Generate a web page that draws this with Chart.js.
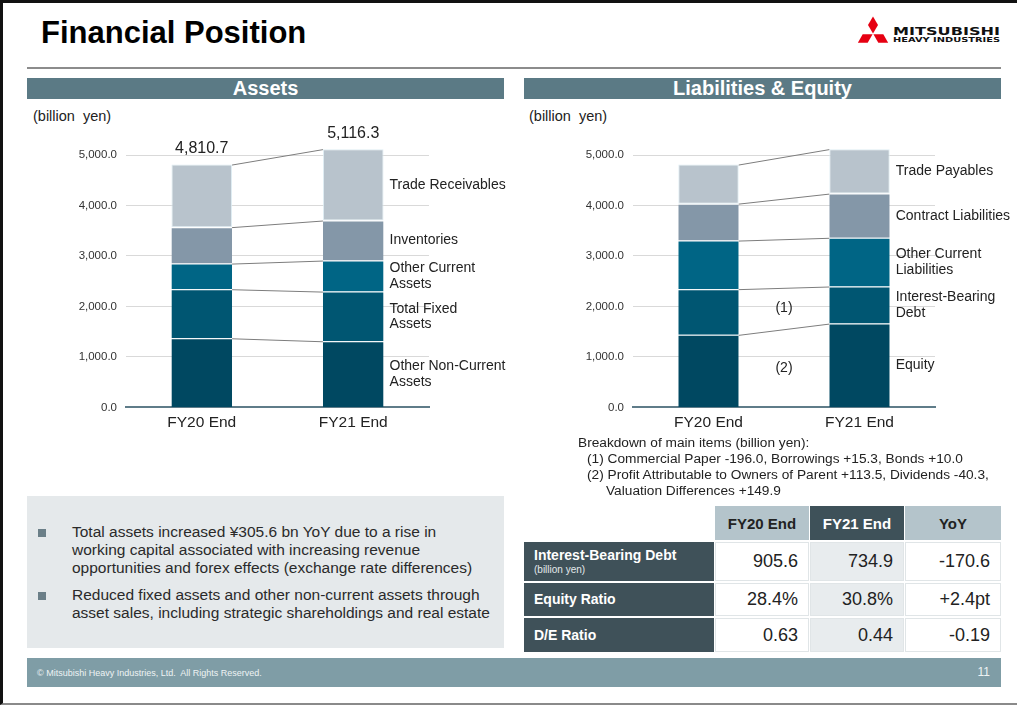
<!DOCTYPE html>
<html><head><meta charset="utf-8">
<script src="https://cdn.jsdelivr.net/npm/chart.js@4.4.1/dist/chart.umd.min.js"></script>
<style>
html,body{margin:0;padding:0;}
body{width:1017px;height:705px;position:relative;overflow:hidden;background:#fff;font-family:Arial,"Liberation Sans",sans-serif;color:#222;}
.abs{position:absolute;}
.frame{left:0;top:0;width:1017px;height:705px;box-sizing:border-box;border-top:3px solid #111;border-left:3px solid #111;border-bottom:2px solid #8a8a8a;pointer-events:none;}
.title{left:41px;top:15px;font-size:31px;font-weight:bold;color:#000;line-height:36px;}
.rule{left:27px;top:67px;width:974px;height:2px;background:#8c8c8c;}
.hdr{top:78px;height:21px;background:#5b7a85;color:#fff;font-weight:bold;font-size:20px;line-height:21px;text-align:center;}
.unit{top:107px;font-size:14.5px;line-height:18px;color:#222;}
.note{left:578px;font-size:13.7px;line-height:16px;color:#222;white-space:nowrap;}
.box{left:27px;top:496px;width:477px;height:152px;background:#e5e9eb;}
.bul{left:38px;width:8px;height:8px;background:#6b7f88;}
.btxt{left:72px;font-size:15.5px;line-height:18px;color:#2a2a2a;white-space:nowrap;}
.footer{left:27px;top:658px;width:974px;height:29px;background:#7f9da6;}
.fl{left:37px;top:668px;font-size:9px;color:#eef3f4;line-height:10px;}
.fr{left:970px;top:665px;width:20px;text-align:right;font-size:12px;color:#eef3f4;line-height:14px;}
.cell{box-sizing:border-box;font-size:18px;display:flex;align-items:center;}
</style></head>
<body>
<div class="abs frame"></div>
<div class="abs title">Financial Position</div>
<svg class="abs" style="left:850px;top:12px" width="160" height="40" viewBox="850 12 160 40">
  <g fill="#e60012">
    <polygon points="873,33.5 878,25 873,16.5 868,25"/>
    <polygon points="873,33.5 878,25 873,16.5 868,25" transform="rotate(120 873 34)"/>
    <polygon points="873,33.5 878,25 873,16.5 868,25" transform="rotate(240 873 34)"/>
  </g>
  <text x="893" y="34.5" textLength="107" lengthAdjust="spacingAndGlyphs" font-family="DejaVu Sans" font-weight="bold" font-size="11" fill="#111">MITSUBISHI</text>
  <text x="893" y="42" textLength="107" lengthAdjust="spacingAndGlyphs" font-family="DejaVu Sans" font-weight="bold" font-size="6.8" fill="#111">HEAVY INDUSTRIES</text>
</svg>
<div class="abs rule"></div>
<div class="abs hdr" style="left:27px;width:477px;">Assets</div>
<div class="abs hdr" style="left:524px;width:477px;">Liabilities &amp; Equity</div>
<div class="abs unit" style="left:33px;">(billion&nbsp; yen)</div>
<div class="abs unit" style="left:529px;">(billion&nbsp; yen)</div>

<canvas id="cA" class="abs" style="left:27px;top:100px;"></canvas>
<canvas id="cL" class="abs" style="left:520px;top:100px;"></canvas>

<div class="abs note" style="top:435px;">Breakdown of main items (billion yen):</div>
<div class="abs note" style="top:451px;left:587px;">(1) Commercial Paper -196.0, Borrowings +15.3, Bonds +10.0</div>
<div class="abs note" style="top:467px;left:587px;">(2) Profit Attributable to Owners of Parent +113.5, Dividends -40.3,</div>
<div class="abs note" style="top:483px;left:606px;">Valuation Differences +149.9</div>

<div class="abs box"></div>
<div class="abs bul" style="top:529px;"></div>
<div class="abs btxt" style="top:523px;">Total assets increased ¥305.6 bn YoY due to a rise in<br>working capital associated with increasing revenue<br>opportunities and forex effects (exchange rate differences)</div>
<div class="abs bul" style="top:592px;"></div>
<div class="abs btxt" style="top:586px;">Reduced fixed assets and other non-current assets through<br>asset sales, including strategic shareholdings and real estate</div>

<div id="tbl"></div>

<div class="abs footer"></div>
<div class="abs fl">© Mitsubishi Heavy Industries, Ltd.&nbsp; All Rights Reserved.</div>
<div class="abs fr">11</div>

<script>
// ---------- data ----------
const categories = ['FY20 End', 'FY21 End'];
const yTickStep = 1000;
const yMax = 5000;

// Assets (billion yen), bottom to top
const assetNames = ['Other Non-Current\nAssets', 'Total Fixed\nAssets', 'Other Current\nAssets', 'Inventories', 'Trade Receivables'];
const otherNonCurrentAssets = [1369, 1310];
const totalFixedAssets = [972, 984];
const otherCurrentAssets = [508, 615];
const inventories = [722, 793];
const tradeReceivables = [1239.7, 1414.3];
const totalAssets = [4810.7, 5116.3];

// Liabilities & Equity (billion yen), bottom to top
const liabNames = ['Equity', 'Interest-Bearing\nDebt', 'Other Current\nLiabilities', 'Contract Liabilities', 'Trade Payables'];
const equity = [1437, 1660];
const interestBearingDebt = [905.6, 734.9];
const otherCurrentLiabilities = [962, 965];
const contractLiabilities = [732, 875];
const tradePayables = [774.1, 881.4];
const liabNotes = [{ text: '(2)', series: 0 }, { text: '(1)', series: 1 }];

// Table
const tableCols = ['FY20 End', 'FY21 End', 'YoY'];
const tableRows = ['Interest-Bearing Debt', 'Equity Ratio', 'D/E Ratio'];
const tableRowSub = ['(billion yen)', '', ''];
const fy20Values = ['905.6', '28.4%', '0.63'];
const fy21Values = ['734.9', '30.8%', '0.44'];
const yoyValues = ['-170.6', '+2.4pt', '-0.19'];

// ---------- styles ----------
const segColors = ['#004861', '#005672', '#006585', '#8497a8', '#b8c3cc'];

function fmt1(v) { return v.toLocaleString('en-US', { minimumFractionDigits: 1, maximumFractionDigits: 1 }); }

const overlay = {
  id: 'overlay',
  afterDatasetsDraw(chart, args, o) {
    const ctx = chart.ctx;
    const n = chart.data.datasets.length;
    ctx.save();
    ctx.strokeStyle = '#7d7d7d';
    ctx.lineWidth = 1;
    for (let i = 0; i < n; i++) {
      const m = chart.getDatasetMeta(i);
      const a = m.data[0], b = m.data[1];
      ctx.beginPath();
      ctx.moveTo(a.x + a.width / 2, a.y + 0.5);
      ctx.lineTo(b.x - b.width / 2, b.y + 0.5);
      ctx.stroke();
    }
    ctx.fillStyle = '#222';
    ctx.font = '14px Arial, "Liberation Sans", sans-serif';
    ctx.textAlign = 'left';
    ctx.textBaseline = 'middle';
    for (let i = 0; i < n; i++) {
      const b = chart.getDatasetMeta(i).data[1];
      const lines = o.names[i].split('\n');
      const mid = (b.y + b.base) / 2;
      const lh = 15.5;
      lines.forEach((t, k) => ctx.fillText(t, b.x + b.width / 2 + 6, mid + (k - (lines.length - 1) / 2) * lh));
    }
    if (o.totals) {
      const top = chart.getDatasetMeta(n - 1);
      ctx.font = '16px Arial, "Liberation Sans", sans-serif';
      ctx.textAlign = 'center';
      ctx.textBaseline = 'bottom';
      top.data.forEach((el, j) => ctx.fillText(fmt1(o.totals[j]), el.x, el.y - 8));
    }
    if (o.notes) {
      ctx.font = '14px Arial, "Liberation Sans", sans-serif';
      ctx.textAlign = 'center';
      ctx.textBaseline = 'middle';
      o.notes.forEach(nt => {
        const d = chart.getDatasetMeta(nt.series).data;
        const x = (d[0].x + d[1].x) / 2;
        const y = ((d[0].y + d[0].base) / 2 + (d[1].y + d[1].base) / 2) / 2;
        ctx.fillText(nt.text, x, y);
      });
    }
    ctx.restore();
  }
};

function makeChart(id, w, series, names, pad, extra) {
  const cv = document.getElementById(id);
  const h = 347;
  cv.width = w; cv.height = h;
  cv.style.width = w + 'px'; cv.style.height = h + 'px';
  return new Chart(cv, {
    type: 'bar',
    data: {
      labels: categories,
      datasets: series.map((s, i) => ({
        label: names[i].replace('\n', ' '),
        data: s,
        backgroundColor: segColors[i],
        borderColor: i === series.length - 1 ? 'rgba(220,235,242,0.9)' : 'rgba(255,255,255,0.45)',
        borderWidth: i === series.length - 1 ? 1 : { top: 1 },
        borderSkipped: false,
        barPercentage: 0.4,
        categoryPercentage: 1,
        clip: false
      }))
    },
    options: {
      responsive: false,
      animation: false,
      devicePixelRatio: 1,
      layout: { padding: pad },
      plugins: { legend: { display: false }, tooltip: { enabled: false }, overlay: Object.assign({ names }, extra) },
      scales: {
        x: {
          stacked: true,
          grid: { drawOnChartArea: false, drawTicks: false },
          border: { display: true, color: '#5f7c89', width: 2 },
          ticks: { color: '#222', padding: 6, font: { size: 15.5, family: 'Arial, "Liberation Sans", sans-serif' } }
        },
        y: {
          stacked: true,
          min: 0, max: yMax,
          afterFit(scale) { scale.width = 60; },
          grid: { color: '#d9d9d9', drawTicks: false },
          border: { display: false },
          ticks: { stepSize: yTickStep, padding: 9, color: '#333', font: { size: 11.5, family: 'Arial, "Liberation Sans", sans-serif' }, callback: v => fmt1(v) }
        }
      }
    },
    plugins: [overlay]
  });
}

makeChart('cA', 490,
  [otherNonCurrentAssets, totalFixedAssets, otherCurrentAssets, inventories, tradeReceivables],
  assetNames, { top: 55, left: 39, right: 88, bottom: 9 }, { totals: totalAssets });
makeChart('cL', 497,
  [equity, interestBearingDebt, otherCurrentLiabilities, contractLiabilities, tradePayables],
  liabNames, { top: 55, left: 53, right: 82, bottom: 9 }, { notes: liabNotes });

// ---------- table ----------
(function () {
  const host = document.getElementById('tbl');
  const colX = [715, 810, 905];
  const colW = [94, 94, 96];
  const rowY = [542, 583, 618];
  const rowH = [39, 33, 34];
  const hdrBg = ['#b4c4cb', '#3e5159', '#b4c4cb'];
  const hdrFg = ['#222', '#fff', '#222'];
  const valBg = ['#fff', '#e8ecee', '#fff'];
  function div(style, html) {
    const d = document.createElement('div');
    d.className = 'abs cell';
    Object.assign(d.style, style);
    d.innerHTML = html;
    host.appendChild(d);
    return d;
  }
  tableCols.forEach((c, j) => div({ left: colX[j] + 'px', top: '506px', width: colW[j] + 'px', height: '34px', background: hdrBg[j], color: hdrFg[j], justifyContent: 'center', fontWeight: 'bold', fontSize: '15px' }, c));
  const vals = [fy20Values, fy21Values, yoyValues];
  tableRows.forEach((r, i) => {
    const sub = tableRowSub[i] ? '<div style="font-size:10px;font-weight:normal;color:#e4eaec;line-height:12px;">' + tableRowSub[i] + '</div>' : '';
    div({ left: '524px', top: rowY[i] + 'px', width: '190px', height: rowH[i] + 'px', background: '#3f5159', color: '#fff', fontWeight: 'bold', fontSize: '14px', paddingLeft: '10px', display: 'block', paddingTop: sub ? '5px' : '0', lineHeight: sub ? '17px' : rowH[i] + 'px' }, r + sub);
    vals.forEach((v, j) => div({ left: colX[j] + 'px', top: rowY[i] + 'px', width: colW[j] + 'px', height: rowH[i] + 'px', background: valBg[j], justifyContent: 'flex-end', paddingRight: '10px', border: '1px solid #e0e5e7', color: '#222' }, v[i]));
  });
})();
</script>
</body></html>
